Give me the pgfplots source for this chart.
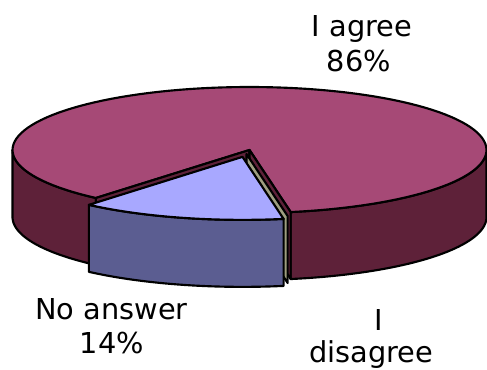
\documentclass[border=0pt]{standalone}
\usepackage{pgfplots}
\pgfplotsset{compat=1.18}
\usepackage{pgfplotstable}
\usepackage{fontspec}
\setmainfont{DejaVu Sans}

\definecolor{agreeTop}{RGB}{166,73,118}
\definecolor{agreeSide}{RGB}{94,33,57}
\definecolor{noTop}{RGB}{168,168,255}
\definecolor{noSide}{RGB}{91,93,145}
\definecolor{disWall}{RGB}{158,158,128}

% survey answers, in percent
\pgfplotstableread{
label value
agree 86
noanswer 14
disagree 0
}\piedata

% pie geometry in axis units: centre, radii of the top ellipse, thickness
\def\cx{249.5}\def\cy{219}\def\rx{237}\def\ry{63}\def\dep{67}

% outer wall of a slice between two angles, shifted by (#4,#5)
\newcommand\sideface[5]{%
  \addplot[#1, domain=0:3, samples=121, variable=\s]
   ({#4+\cx+\rx*cos(\s<=1.5 ? (#2)+((#3)-(#2))*min(\s,1) : (#3)-((#3)-(#2))*max(\s-2,0))},
    {#5+\cy+\ry*sin(\s<=1.5 ? (#2)+((#3)-(#2))*min(\s,1) : (#3)-((#3)-(#2))*max(\s-2,0)) - (\s<=1.5 ? 0 : \dep)}) -- cycle;
}
% top face of a slice, centre given as (#4,#5)
\newcommand\topface[5]{%
  \addplot[#1, domain=#2:#3, samples=120]
   ({#4+\rx*cos(x)},{#5+\ry*sin(x)}) -- (axis cs:#4,#5) -- cycle;
}

\newcommand\lbl{\fontsize{20.2}{24}\selectfont}

\begin{document}
\begin{tikzpicture}
\pgfplotstablegetelem{0}{value}\of\piedata \let\vAgree\pgfplotsretval
\pgfplotstablegetelem{1}{value}\of\piedata \let\vNone\pgfplotsretval
\pgfplotstablegetelem{2}{value}\of\piedata \let\vDis\pgfplotsretval
% slice angles
\pgfmathsetmacro\aS{-80}
\pgfmathsetmacro\aE{\aS+3.6*\vAgree}
\pgfmathsetmacro\nE{\aE+3.6*\vNone}
\pgfmathsetmacro\dE{\nE+3.6*\vDis}
\pgfmathsetmacro\nM{(\aE+\nE)/2}
% pulled-out "no answer" slice
\pgfmathsetmacro\bx{\cx+0.113*\rx*cos(\nM)}
\pgfmathsetmacro\by{\cy+0.113*\ry*sin(\nM)}
\pgfmathsetmacro\bdx{\bx-\cx}
\pgfmathsetmacro\bdy{\by-\cy}
% radial walls
\pgfmathsetmacro\cyb{\cy-\dep}
\pgfmathsetmacro\pAx{\cx+\rx*cos(\aE)}
\pgfmathsetmacro\pAy{\cy+\ry*sin(\aE)}
\pgfmathsetmacro\pAyb{\pAy-\dep}
\pgfmathsetmacro\pBx{\cx+\rx*cos(\aS)}
\pgfmathsetmacro\pBy{\cy+\ry*sin(\aS)}
\pgfmathsetmacro\pByb{\pBy-\dep}
% thin "disagree" slice
\pgfmathsetmacro\dcx{\cx-3}
\pgfmathsetmacro\dcy{\cy-4}
\pgfmathsetmacro\dcyb{\dcy-\dep}
\pgfmathsetmacro\dpx{\pBx-3}
\pgfmathsetmacro\dpy{\pBy-4}
\pgfmathsetmacro\dpyb{\dpy-\dep}
\begin{axis}[
  hide axis, scale only axis,
  width=12cm, height=9.0924cm,
  xmin=0, xmax=487, ymin=0, ymax=369,
  clip=false,
  every axis plot/.append style={line width=1.5pt, line join=round},
]
% I agree
\sideface{fill=agreeSide, draw=black}{180}{\aE}{0}{0}
\sideface{fill=agreeSide, draw=black}{\nE}{360}{0}{0}
\topface{fill=agreeTop, draw=black}{\aS}{\aE}{\cx}{\cy}
\addplot[fill=agreeSide, draw=black] coordinates {(\cx,\cy) (\pAx,\pAy) (\pAx,\pAyb) (\cx,\cyb)} -- cycle;
\addplot[fill=agreeSide, draw=black] coordinates {(\cx,\cy) (\pBx,\pBy) (\pBx,\pByb) (\cx,\cyb)} -- cycle;
% I disagree
\addplot[fill=disWall, draw=black] coordinates {(\dcx,\dcy) (\dpx,\dpy) (\dpx,\dpyb) (\dcx,\dcyb)} -- cycle;
% No answer
\sideface{fill=noSide, draw=black}{\aE}{\nE}{\bdx}{\bdy}
\topface{fill=noTop, draw=black}{\aE}{\nE}{\bx}{\by}

\node[anchor=base, font=\lbl] at (axis cs:362,332) {I agree};
\node[anchor=base, font=\lbl] at (axis cs:359,297) {86\%};
\node[anchor=base, font=\lbl] at (axis cs:111.5,50) {No answer};
\node[anchor=base, font=\lbl] at (axis cs:112,16) {14\%};
\node[anchor=base, font=\lbl] at (axis cs:379,39) {I};
\node[anchor=base, font=\lbl] at (axis cs:371,7) {disagree};
\end{axis}
\pgfresetboundingbox
\path (current axis.south west) rectangle (current axis.north east);
\end{tikzpicture}
\end{document}
